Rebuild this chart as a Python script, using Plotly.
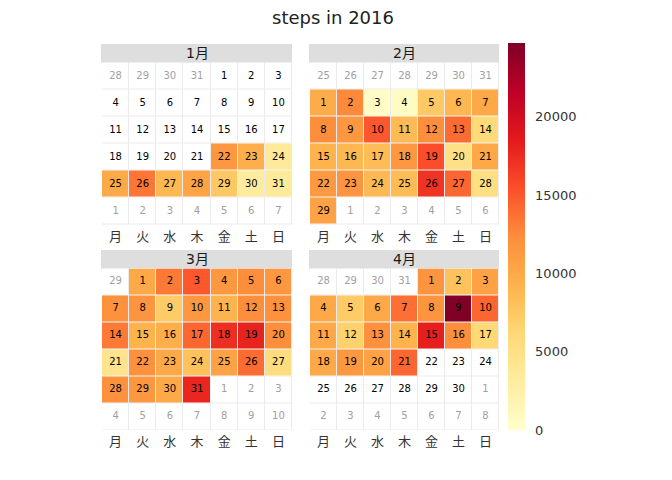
import datetime
import plotly.graph_objects as go
from plotly.subplots import make_subplots

year = 2016
months = [1, 2, 3, 4]
month_titles = ["1月", "2月", "3月", "4月"]
weekday_labels = ["月", "火", "水", "木", "金", "土", "日"]

# daily step counts (None = no data)
jan_steps = [None, None, None, None, None, None, None, None, None, None,
             None, None, None, None, None, None, None, None, None, None,
             None, 11500, 9500, 3500, 10000, 13500, 8800, 10500, 7500, 3200,
             3500]
feb_steps = [9800, 12500, 500, 600, 7500, 8900, 10000, 12300, 11500, 15000,
             8600, 12300, 14000, 6000, 9200, 8800, 8500, 11500, 15500, 5000,
             10100, 11300, 11800, 8700, 8500, 17000, 14200, 5300, 10600]
mar_steps = [10000, 13300, 15000, 11500, 12300, 11500, 12000, 11800, 7300, 11500,
             9100, 12300, 12000, 13300, 9200, 9500, 14200, 17300, 18000, 12300,
             4500, 12000, 10000, 8000, 10600, 14000, 5500, 12000, 11500, 10000,
             17800]
apr_steps = [11800, 8000, 10600, 10000, 7300, 10000, 13800, 11800, 24700, 14200,
             10000, 6800, 12000, 9200, 18200, 12300, 6200, 10000, 11500, 10600,
             14200, None, None, None, None, None, None, None, None, None]
steps_by_month = [jan_steps, feb_steps, mar_steps, apr_steps]

colorscale = ["#ffffcc", "#ffeda0", "#fed976", "#feb24c", "#fd8d3c",
              "#fc4e2a", "#e31a1c", "#bd0026", "#800026"]

LAT = "DejaVu Sans, Noto Sans CJK JP"
CJK = "Noto Sans CJK JP"

OFF = 8  # page body margin
W, H = 672 - OFF, 480 - OFF
def px_x(v): return (v - OFF) / W
def px_y(v): return 1 - (v - OFF) / H

col_dom = [[px_x(102), px_x(292)], [px_x(310), px_x(499)]]
row_dom = [[px_y(224.5), px_y(62.5)], [px_y(430), px_y(268.5)]]

fig = make_subplots(rows=2, cols=2)
all_vals = [v for s in steps_by_month for v in s if v is not None]
zmax = max(all_vals)

shapes = []
annotations = []
for i, m in enumerate(months):
    r, c = divmod(i, 2)
    steps = steps_by_month[i]
    first = datetime.date(year, m, 1)
    prev = first - datetime.timedelta(days=1)
    start = prev - datetime.timedelta(days=prev.weekday())
    z = [[None] * 7 for _ in range(6)]
    tx, ty, tt, tc = [], [], [], []
    for k in range(42):
        d = start + datetime.timedelta(days=k)
        row, col = divmod(k, 7)
        inm = d.month == m
        if inm:
            z[row][col] = steps[d.day - 1]
        tx.append(col)
        ty.append(row)
        tt.append(str(d.day))
        tc.append("#000000" if inm else "#a0a0a0")
    base = [[0] * 7 for _ in range(6)]
    fig.add_trace(go.Heatmap(z=base, x=list(range(7)), y=list(range(6)),
                             colorscale=[[0, "white"], [1, "white"]], showscale=False,
                             xgap=1, ygap=1, hoverinfo="skip"), row=r + 1, col=c + 1)
    fig.add_trace(go.Heatmap(z=z, x=list(range(7)), y=list(range(6)),
                             coloraxis="coloraxis", xgap=1, ygap=1), row=r + 1, col=c + 1)
    fig.add_trace(go.Scatter(x=tx, y=ty, text=tt, mode="text",
                             textfont=dict(size=10, color=tc, family=LAT),
                             hoverinfo="skip", showlegend=False), row=r + 1, col=c + 1)
    ax = "" if i == 0 else str(i + 1)
    fig.layout["xaxis" + ax].update(domain=col_dom[c], range=[-0.5, 6.5],
                                    tickvals=list(range(7)), ticktext=weekday_labels,
                                    showgrid=False, zeroline=False, ticks="",
                                    ticklabelstandoff=2,
                                    tickfont=dict(size=13, color="#333333", family=CJK))
    fig.layout["yaxis" + ax].update(domain=row_dom[r], range=[5.5, -0.5],
                                    showgrid=False, zeroline=False,
                                    showticklabels=False, ticks="")
    top = row_dom[r][1]
    strip_top = top + 18.5 / H
    shapes.append(dict(type="rect", xref="paper", yref="paper",
                       x0=col_dom[c][0] - 1 / W, x1=col_dom[c][1],
                       y0=top, y1=strip_top,
                       fillcolor="#dedede", line=dict(width=0), layer="below"))
    annotations.append(dict(text=month_titles[i], xref="paper", yref="paper",
                            x=(col_dom[c][0] + col_dom[c][1]) / 2,
                            y=(top + strip_top) / 2, showarrow=False,
                            xanchor="center", yanchor="middle",
                            font=dict(size=14, color="#1a1a1a", family=LAT)))

fig.update_layout(
    width=W, height=H,
    margin=dict(l=0, r=0, t=0, b=0),
    paper_bgcolor="white", plot_bgcolor="#ebebeb",
    font=dict(family=LAT, color="#333333"),
    title=dict(text="steps in 2016", x=px_x(333), xanchor="center",
               y=px_y(18), yanchor="middle",
               font=dict(size=18, color="#222222", family=LAT)),
    coloraxis=dict(colorscale=colorscale, cmin=0, cmax=zmax,
                   colorbar=dict(x=px_x(508), xanchor="left", xpad=0,
                                 y=(px_y(43) + px_y(430)) / 2, yanchor="middle",
                                 len=387 / H, lenmode="fraction", ypad=0,
                                 thickness=17, outlinewidth=0,
                                 tickvals=[0, 5000, 10000, 15000, 20000],
                                 tickformat="d",
                                 ticks="outside", ticklen=8,
                                 tickcolor="rgba(0,0,0,0)",
                                 tickfont=dict(size=13, color="#333333", family=LAT))),
    shapes=shapes, annotations=annotations, showlegend=False,
)

fig.write_html("out.html")
